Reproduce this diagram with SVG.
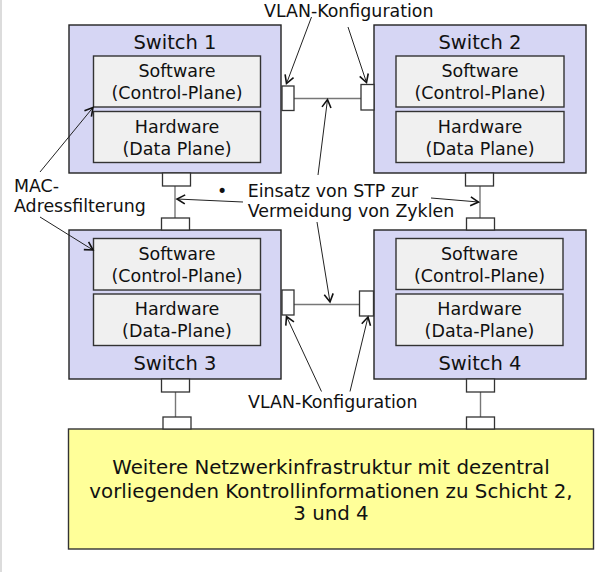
<svg xmlns="http://www.w3.org/2000/svg" width="599" height="572" viewBox="0 0 599 572">
<style>
  text { font-family: "DejaVu Sans", Verdana, sans-serif; fill: #111; }
  .sw { fill: #d6d6f4; stroke: #222; stroke-width: 1.4; }
  .pl { fill: #f0f0f0; stroke: #333; stroke-width: 1.4; }
  .port { fill: #fff; stroke: #333; stroke-width: 1.3; }
  .link { stroke: #777; stroke-width: 1.4; fill: none; }
  .ann { stroke: #222; stroke-width: 1; fill: none; marker-end: url(#chev); }
  .lbl { font-size: 19.5px; text-anchor: middle; }
  .in { font-size: 17.5px; text-anchor: middle; }
  .note { font-size: 17.4px; }
  .big { font-size: 19.8px; text-anchor: middle; }
</style>
<defs>
  <marker id="chev" viewBox="-10 -6 12 12" refX="0" refY="0" markerWidth="12" markerHeight="12" markerUnits="userSpaceOnUse" orient="auto">
    <path d="M-8,-4.5 L0,0 L-8,4.5" fill="none" stroke="#111" stroke-width="1.6"/>
  </marker>
</defs>
<rect width="599" height="572" fill="#fff"/>
<line x1="1" y1="0" x2="1" y2="572" stroke="#d0d0d0" stroke-width="1.5"/>

<g id="connectors">
  <line class="link" x1="294" y1="98.5" x2="361" y2="98.5"/>
  <line class="link" x1="294" y1="304.5" x2="359.5" y2="304.5"/>
  <line class="link" x1="175" y1="186" x2="175" y2="218"/>
  <line class="link" x1="480" y1="186" x2="480" y2="218"/>
  <line class="link" x1="175.5" y1="392" x2="175.5" y2="417"/>
  <line class="link" x1="480.5" y1="392" x2="480.5" y2="417"/>
</g>

<g id="switch1">
  <rect class="sw" x="69" y="25" width="212" height="148"/>
  <text class="lbl" x="175" y="49">Switch 1</text>
  <rect class="pl" x="93.5" y="56" width="167" height="51"/>
  <text class="in" x="177" y="77">Software</text>
  <text class="in" x="177" y="99">(Control-Plane)</text>
  <rect class="pl" x="93.5" y="111.5" width="167" height="51"/>
  <text class="in" x="177" y="133">Hardware</text>
  <text class="in" x="177" y="155">(Data Plane)</text>
  <rect class="port" x="282" y="86" width="12" height="24.5"/>
  <rect class="port" x="162.5" y="173" width="28" height="13"/>
</g>

<g id="switch2">
  <rect class="sw" x="374" y="25" width="212" height="148"/>
  <text class="lbl" x="480" y="49">Switch 2</text>
  <rect class="pl" x="396" y="56" width="168" height="51"/>
  <text class="in" x="480" y="77">Software</text>
  <text class="in" x="480" y="99">(Control-Plane)</text>
  <rect class="pl" x="396" y="111.5" width="168" height="51"/>
  <text class="in" x="480" y="133">Hardware</text>
  <text class="in" x="480" y="155">(Data Plane)</text>
  <rect class="port" x="361" y="84.5" width="13" height="25.5"/>
  <rect class="port" x="465.5" y="173" width="28" height="13"/>
</g>

<g id="switch3">
  <rect class="sw" x="69" y="230" width="212" height="149"/>
  <text class="lbl" x="175" y="370">Switch 3</text>
  <rect class="pl" x="93.5" y="238.5" width="167" height="51.5"/>
  <text class="in" x="177" y="260">Software</text>
  <text class="in" x="177" y="281.5">(Control-Plane)</text>
  <rect class="pl" x="93.5" y="294" width="167" height="51.5"/>
  <text class="in" x="177" y="315">Hardware</text>
  <text class="in" x="177" y="336.5">(Data-Plane)</text>
  <rect class="port" x="161.5" y="218" width="28" height="12"/>
  <rect class="port" x="282" y="290" width="12" height="25"/>
  <rect class="port" x="161.5" y="379" width="28" height="13"/>
</g>

<g id="switch4">
  <rect class="sw" x="374" y="230" width="212" height="149"/>
  <text class="lbl" x="480" y="370">Switch 4</text>
  <rect class="pl" x="396" y="238.5" width="167" height="51"/>
  <text class="in" x="479.5" y="260">Software</text>
  <text class="in" x="479.5" y="281.5">(Control-Plane)</text>
  <rect class="pl" x="396" y="294" width="167" height="51.5"/>
  <text class="in" x="479.5" y="315">Hardware</text>
  <text class="in" x="479.5" y="336.5">(Data-Plane)</text>
  <rect class="port" x="466.5" y="218" width="28" height="12"/>
  <rect class="port" x="359.5" y="291" width="14" height="25"/>
  <rect class="port" x="466.5" y="379" width="28" height="13"/>
</g>

<g id="infrastructure">
  <rect x="68.5" y="429" width="525" height="120" fill="#ffff99" stroke="#333" stroke-width="1.4"/>
  <rect class="port" x="163" y="417" width="28" height="12"/>
  <rect class="port" x="466.5" y="417" width="28" height="12"/>
  <text class="big" x="331" y="473.5">Weitere Netzwerkinfrastruktur mit dezentral</text>
  <text class="big" x="331" y="497.5">vorliegenden Kontrollinformationen zu Schicht 2,</text>
  <text class="big" x="331" y="520">3 und 4</text>
</g>

<g id="annotations">
  <text class="note" x="264" y="17">VLAN-Konfiguration</text>
  <text class="note" x="248" y="408">VLAN-Konfiguration</text>
  <text class="note" x="217" y="196.7">•</text>
  <text class="note" x="247.7" y="196.7">Einsatz von STP zur</text>
  <text class="note" x="247.7" y="216.7">Vermeidung von Zyklen</text>
  <text class="note" x="14" y="192">MAC-</text>
  <text class="note" x="14" y="212">Adressfilterung</text>
  <line class="ann" x1="311.5" y1="17" x2="286.5" y2="83.5"/>
  <line class="ann" x1="348" y1="27" x2="366.5" y2="82.5"/>
  <line class="ann" x1="318" y1="175" x2="327.5" y2="99.5"/>
  <line class="ann" x1="317" y1="222" x2="330" y2="302"/>
  <line class="ann" x1="243" y1="202" x2="177" y2="199"/>
  <line class="ann" x1="431" y1="198" x2="478.5" y2="202"/>
  <line class="ann" x1="40" y1="172" x2="93" y2="107.5"/>
  <line class="ann" x1="40" y1="217" x2="93" y2="250"/>
  <line class="ann" x1="321.5" y1="391.5" x2="286.5" y2="316.5"/>
  <line class="ann" x1="350" y1="391.5" x2="368" y2="317"/>
</g>
</svg>
